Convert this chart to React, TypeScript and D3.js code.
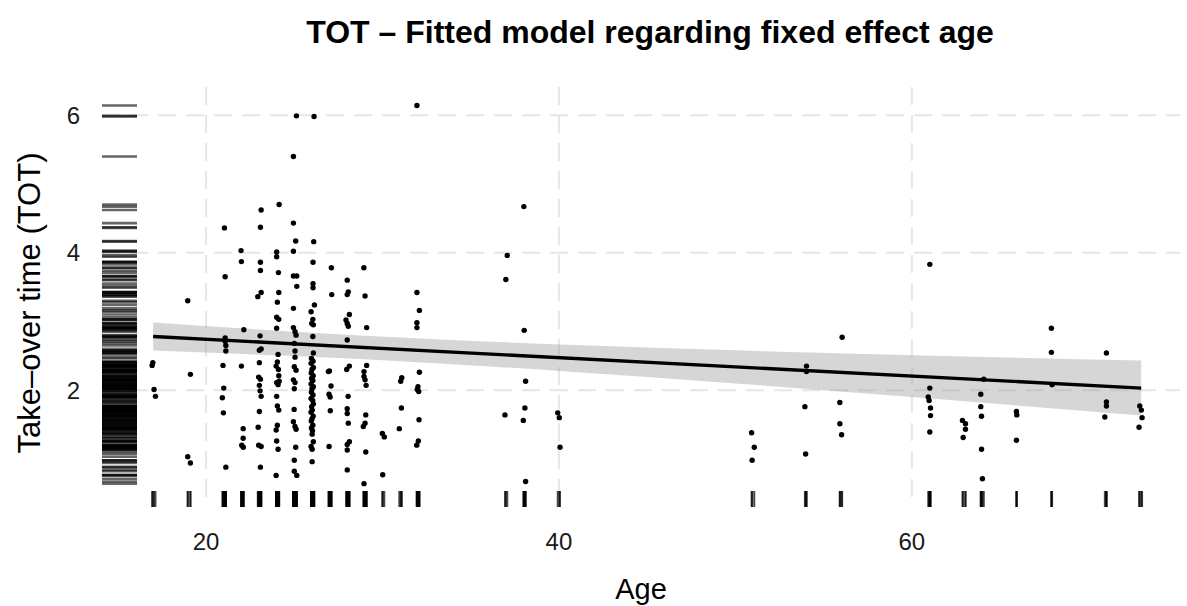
import React from 'react';
import * as d3 from 'd3';

const W = 1187;
const H = 606;

// Observed points: age (with the small horizontal jitter visible in the picture) and take-over time
const ages: number[] = [
  // 17
  16.98, 16.94, 17.05, 17.13,
  // 19
  18.96, 19.11, 18.96, 19.11,
  // 21
  21.04, 21.08, 21.08, 21.08, 21.12, 21.12, 20.96, 21.0, 20.92, 20.98, 21.12,
  // 22
  21.98, 22.0, 22.14, 22.0, 22.1, 22.1, 22.02, 22.11,
  // 23
  23.12, 23.08, 23.08, 23.08, 23.12, 22.93, 23.06, 23.12, 23.02, 23.02, 22.98, 23.08, 23.02, 23.06, 23.12, 23.02, 22.95, 22.98, 23.12, 23.08,
  // 24
  24.14, 24.0, 24.0, 24.1, 24.12, 24.04, 24.0, 24.12, 24.0, 24.08, 24.04, 23.97, 24.1, 24.12, 24.14, 24.0, 24.08, 24.0, 24.04, 24.12, 24.04, 23.97, 24.0, 24.08, 23.97,
  // 25
  25.12, 24.95, 24.95, 25.08, 24.95, 24.95, 25.14, 25.14, 24.95, 24.95, 25.04, 25.1, 25.0, 25.04, 25.04, 25.0, 25.1, 24.95, 25.04, 25.0, 24.99, 24.95, 25.04, 25.1, 25.08, 25.0, 25.0, 25.14,
  // 26
  26.12, 26.1, 26.06, 26.06, 26.06, 26.14, 25.95, 26.05, 25.99, 26.08, 26.05, 26.08,
  25.97, 26.06, 25.95, 26.08, 26.0, 25.96, 26.07, 25.98, 26.05, 25.95, 26.08, 26.0, 25.97, 26.06, 25.95, 26.04, 26.08, 25.98, 26.02, 25.95, 26.07, 26.0, 25.96, 26.05, 25.97, 26.03, 26.01,
  26.08, 25.95, 26.01, 26.01,
  // 27
  27.1, 27.12, 26.99, 26.93, 27.08, 26.97, 27.03, 27.04, 26.97,
  // 28
  28.0, 28.06, 28.0, 28.12, 27.93, 28.0, 28.06, 28.0, 28.12, 27.97, 28.05, 28.0, 28.0, 28.06, 28.12, 28.0, 28.0, 28.0,
  // 29
  28.94, 29.01, 29.1, 29.1, 28.95, 28.95, 29.01, 29.07, 29.05, 29.01, 28.91, 29.05, 28.95,
  // 30
  29.99, 30.1, 30.01,
  // 31
  31.09, 31.03, 31.07, 30.95,
  // 32
  31.95, 31.95, 32.09, 31.95, 31.95, 32.09, 32.01, 31.97, 32.05, 32.07, 32.03, 31.94,
  // 37
  37.07, 36.99, 36.94,
  // 38
  38.01, 38.03, 38.11, 38.07, 37.98, 38.11,
  // 40
  39.93, 40.02, 40.06,
  // 51
  50.92, 51.07, 50.95,
  // 54
  54.03, 54.03, 53.94, 53.98,
  // 56
  56.05, 55.92, 55.92, 56.02,
  // 61
  61.02, 61.02, 60.93, 60.98, 61.06, 61.06, 61.02,
  // 63
  62.87, 63.04, 63.04, 62.91,
  // 64
  64.08, 63.91, 63.91, 63.95, 63.95, 64.0,
  // 66
  65.93, 65.95, 65.93,
  // 68
  67.91, 67.91, 67.95,
  // 71
  71.03, 71.03, 71.03, 70.94,
  // 73
  72.92, 73.01, 73.05, 72.88,
];

const tot: number[] = [
  // 17
  2.40, 2.36, 2.01, 1.91,
  // 19
  3.30, 2.23, 1.03, 0.94,
  // 21
  4.36, 3.65, 2.76, 2.71, 2.65, 2.57, 2.36, 2.03, 1.89, 1.67, 0.88,
  // 22
  4.03, 3.87, 2.88, 2.35, 1.44, 1.30, 1.20, 1.17,
  // 23
  4.62, 4.37, 3.86, 3.74, 3.42, 3.36, 2.79, 2.60, 2.58, 2.40, 2.19, 2.16, 2.07, 1.99, 1.91, 1.69, 1.46, 1.20, 1.18, 0.88,
  // 24
  4.70, 4.01, 3.94, 3.71, 3.42, 3.28, 3.06, 3.03, 2.90, 2.52, 2.41, 2.35, 2.30, 2.21, 2.13, 2.11, 2.08, 1.91, 1.77, 1.71, 1.49, 1.42, 1.26, 1.14, 0.76,
  // 25
  5.99, 5.40, 4.43, 4.17, 4.02, 3.66, 3.66, 3.51, 3.19, 2.91, 2.85, 2.80, 2.68, 2.57, 2.48, 2.34, 2.29, 2.15, 2.11, 2.02, 1.72, 1.54, 1.47, 1.43, 1.17, 0.98, 0.82, 0.76,
  // 26
  5.98, 4.16, 3.86, 3.55, 3.49, 3.24, 3.14, 3.03, 2.97, 2.95, 2.78, 2.54,
  2.46, 2.42, 2.39, 2.33, 2.30, 2.25, 2.21, 2.17, 2.14, 2.09, 2.05, 2.02, 1.97, 1.93, 1.88, 1.85, 1.80, 1.76, 1.71, 1.68, 1.62, 1.58, 1.55, 1.49, 1.45, 1.41, 1.36,
  1.25, 1.18, 1.14, 0.96,
  // 27
  3.78, 3.39, 2.28, 2.27, 2.06, 1.94, 1.90, 1.70, 1.18,
  // 28
  3.60, 3.43, 3.39, 3.10, 3.02, 2.97, 2.93, 2.73, 2.35, 2.30, 1.91, 1.73, 1.66, 1.52, 1.25, 1.21, 1.13, 0.84,
  // 29
  3.78, 3.37, 2.91, 2.36, 2.27, 2.20, 2.15, 2.07, 1.64, 1.52, 1.47, 1.10, 0.64,
  // 30
  1.37, 1.32, 0.77,
  // 31
  2.18, 2.13, 1.74, 1.44,
  // 32
  6.14, 3.42, 3.16, 2.98, 2.91, 2.26, 2.05, 2.01, 1.98, 1.57, 1.26, 1.20,
  // 37
  3.96, 3.61, 1.64,
  // 38
  4.67, 2.87, 2.13, 1.74, 1.56, 0.67,
  // 40
  1.67, 1.60, 1.17,
  // 51
  1.38, 1.17, 0.98,
  // 54
  2.35, 2.27, 1.76, 1.07,
  // 56
  2.77, 1.82, 1.51, 1.35,
  // 61
  3.83, 2.03, 1.90, 1.85, 1.74, 1.63, 1.39,
  // 63
  1.56, 1.51, 1.43, 1.31,
  // 64
  2.16, 1.94, 1.76, 1.62, 1.14, 0.71,
  // 66
  1.69, 1.64, 1.27,
  // 68
  2.90, 2.55, 2.08,
  // 71
  2.54, 1.83, 1.77, 1.61,
  // 73
  1.77, 1.71, 1.60, 1.46,
];

// Fitted line (fixed effect of age) and its confidence band
const fitAges: number[] = [17, 73];
const fitTot: number[] = [2.78, 2.03];
const ciAges: number[] = [17, 25, 33, 40, 50, 60, 73];
const ciLow: number[] = [2.575, 2.495, 2.391, 2.28, 2.097, 1.899, 1.63];
const ciHigh: number[] = [2.985, 2.851, 2.741, 2.664, 2.579, 2.509, 2.43];

const xTicks: number[] = [20, 40, 60];
const yTicks: number[] = [2, 4, 6];

const titleText = 'TOT \u2013 Fitted model regarding fixed effect age';
const xTitle = 'Age';
const yTitle = 'Take\u2013over time (TOT)';

const FONT = "'Liberation Sans', Arial, Helvetica, sans-serif";

export default function App() {
  const left = 102;
  const right = 1180;
  const top = 87;
  const bottom = 507;
  const x = d3.scaleLinear().domain([14.1, 75.2]).range([left, right]);
  const y = d3.scaleLinear().domain([0.3, 6.41]).range([bottom, top]);

  const ribbon = d3
    .area<number>()
    .x((_, i) => x(ciAges[i]))
    .y0((_, i) => y(ciLow[i]))
    .y1((_, i) => y(ciHigh[i]))
    .curve(d3.curveMonotoneX)(ciAges);

  const fitLine = d3
    .line<number>()
    .x((_, i) => x(fitAges[i]))
    .y((_, i) => y(fitTot[i]))(fitAges);

  const gridColor = '#e6e6e6';

  return (
    <svg
      width={W}
      height={H}
      style={{ position: 'absolute', left: 0, top: 0, background: '#fff' }}
      fontFamily={FONT}
    >
      <rect x={0} y={0} width={W} height={H} fill="#fff" />
      {/* grid */}
      {xTicks.map((t) => (
        <line
          key={'gx' + t}
          x1={x(t)}
          x2={x(t)}
          y1={top}
          y2={bottom}
          stroke={gridColor}
          strokeWidth={2}
          strokeDasharray="18 10"
        />
      ))}
      {yTicks.map((t) => (
        <line
          key={'gy' + t}
          x1={left}
          x2={right}
          y1={y(t)}
          y2={y(t)}
          stroke={gridColor}
          strokeWidth={2}
          strokeDasharray="18 10"
        />
      ))}

      {/* confidence band */}
      <path d={ribbon || ''} fill="#999999" fillOpacity={0.4} />

      {/* points */}
      {ages.map((a, i) => (
        <circle key={'p' + i} cx={x(a)} cy={y(tot[i])} r={2.7} fill="#000" />
      ))}

      {/* fitted line */}
      <path d={fitLine || ''} fill="none" stroke="#000" strokeWidth={3.4} />

      {/* rugs */}
      {tot.map((v, i) => (
        <line
          key={'ry' + i}
          x1={left}
          x2={left + 35}
          y1={y(v)}
          y2={y(v)}
          stroke="#000"
          strokeOpacity={0.6}
          strokeWidth={2.6}
        />
      ))}
      {ages.map((a, i) => (
        <line
          key={'rx' + i}
          x1={x(a)}
          x2={x(a)}
          y1={bottom - 16}
          y2={bottom}
          stroke="#000"
          strokeOpacity={0.7}
          strokeWidth={2}
        />
      ))}

      {/* tick labels */}
      {xTicks.map((t) => (
        <text
          key={'tx' + t}
          x={x(t)}
          y={550}
          textAnchor="middle"
          fontSize={24}
          fill="#1a1a1a"
        >
          {t}
        </text>
      ))}
      {yTicks.map((t) => (
        <text
          key={'ty' + t}
          x={80}
          y={y(t)}
          dy="0.36em"
          textAnchor="end"
          fontSize={24}
          fill="#1a1a1a"
        >
          {t}
        </text>
      ))}

      {/* axis titles */}
      <text x={(left + right) / 2} y={599} textAnchor="middle" fontSize={29} fill="#000">
        {xTitle}
      </text>
      <text
        transform={`translate(40, 303) rotate(-90)`}
        textAnchor="middle"
        fontSize={31}
        fill="#000"
      >
        {yTitle}
      </text>

      {/* title */}
      <text x={650} y={43} textAnchor="middle" fontSize={32} fontWeight="bold" fill="#000">
        {titleText}
      </text>
    </svg>
  );
}
